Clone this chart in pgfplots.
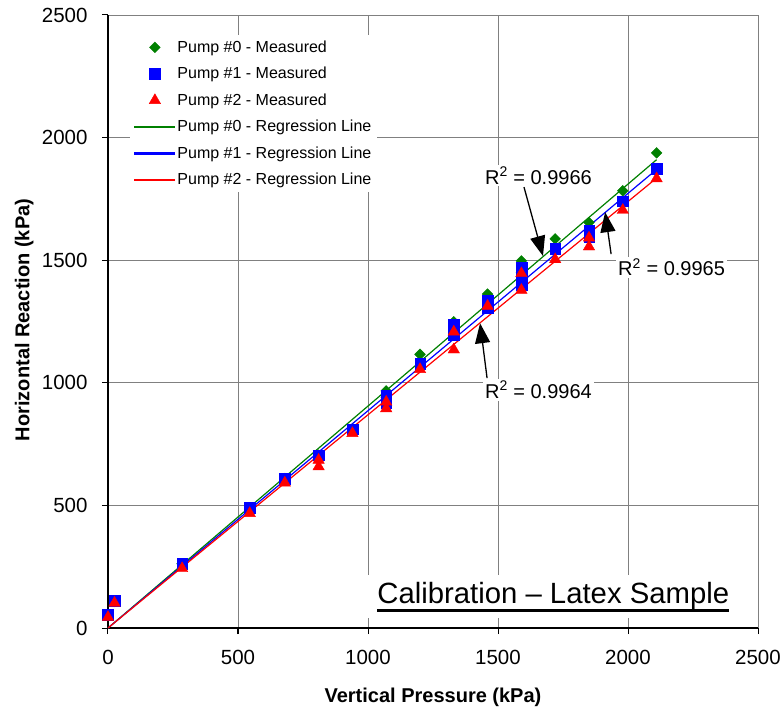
\documentclass[border=0pt]{standalone}
\usepackage{pgfplots}
\pgfplotsset{compat=1.18}
\usepackage{fontspec}
\setmainfont{Liberation Sans}
\usetikzlibrary{arrows.meta}
\definecolor{pumpgreen}{RGB}{0,128,0}
\definecolor{pumpblue}{RGB}{0,0,255}
\definecolor{pumpred}{RGB}{255,0,0}
\definecolor{gridgray}{RGB}{128,128,128}
\begin{document}
\begin{tikzpicture}
\useasboundingbox (-108pt,-85pt) rectangle (676pt,628pt);
\begin{axis}[
  at={(0,0)}, anchor=south west,
  scale only axis, width=650pt, height=613pt,
  xmin=0, xmax=2500, ymin=0, ymax=2500,
  xtick={0,500,...,2500}, ytick={0,500,...,2500},
  axis x line*=bottom, axis y line*=left,
  axis line style={line width=1.6pt, black},
  tick align=outside, major tick length=6pt,
  tick style={line width=1pt, black},
  grid=major, major grid style={line width=0.8pt, gridgray},
  /pgf/number format/assume math mode=true,
  /pgf/number format/set thousands separator={},
  ticklabel style={font=\fontsize{20.5}{24}\selectfont},
  yticklabel style={xshift=-11pt},
  xticklabel style={yshift=-13pt},
  xlabel={\textbf{Vertical Pressure (kPa)}},
  ylabel={\textbf{Horizontal Reaction (kPa)}},
  label style={font=\fontsize{20}{24}\selectfont},
  xlabel style={at={(axis description cs:0.5,-0.1126)}, anchor=center},
  ylabel style={at={(axis description cs:-0.129,0.5025)}, anchor=center, rotate=0},
  legend image code/.code={\draw[mark repeat=2,mark phase=2] plot coordinates {(0pt,0pt) (20pt,0pt) (40pt,0pt)};},
  legend style={at={(0.034,0.968)}, anchor=north west, draw=none, fill=white,
    font=\fontsize{16}{19}\selectfont, row sep=9.4pt, inner sep=4pt},
  legend cell align=left,
  clip=false,
]
\addplot[only marks, mark=square*, mark size=3.8pt, color=pumpgreen, mark options={rotate=45, fill=pumpgreen, draw=pumpgreen}] coordinates {
(0,50) (25,108) (285,262) (545,488) (680,610) (810,705) (940,810) (1070,967) (1070,940) (1200,1116) (1330,1249) (1330,1210) (1460,1362) (1590,1497) (1590,1450) (1720,1587) (1850,1654) (1980,1783) (2110,1938)
};
\addlegendentry{Pump \#0 - Measured}
\addplot[only marks, mark=square*, mark size=5.3pt, color=pumpblue, mark options={fill=pumpblue, draw=pumpblue}] coordinates {
(0,55) (25,112) (285,263) (545,490) (680,610) (810,705) (940,810) (1070,950) (1070,920) (1200,1079) (1330,1238) (1330,1196) (1460,1335) (1460,1305) (1590,1470) (1590,1440) (1590,1400) (1720,1548) (1850,1623) (1850,1597) (1980,1741) (2110,1874)
};
\addlegendentry{Pump \#1 - Measured}
\addplot[only marks, mark=triangle*, mark size=6.6pt, color=pumpred, mark options={fill=pumpred, draw=pumpred}] coordinates {
(0,44) (25,102) (285,243) (545,468) (680,592) (810,685) (810,658) (940,794) (1070,922) (1070,895) (1200,1055) (1330,1208) (1330,1135) (1460,1313) (1590,1446) (1590,1378) (1720,1503) (1850,1591) (1850,1555) (1980,1704) (2110,1833)
};
\addlegendentry{Pump \#2 - Measured}
\addplot[color=pumpgreen, line width=1.2pt, no marks,
  legend image code/.code={\fill[pumpgreen] (0pt,-0.7pt) rectangle (40pt,0.7pt);}] coordinates {(0,0) (2110,1910)};
\addlegendentry{Pump \#0 - Regression Line}
\addplot[color=pumpblue, line width=1.2pt, no marks,
  legend image code/.code={\fill[pumpblue] (0pt,-0.7pt) rectangle (40pt,0.7pt);}] coordinates {(0,0) (2110,1870)};
\addlegendentry{Pump \#1 - Regression Line}
\addplot[color=pumpred, line width=1.2pt, no marks,
  legend image code/.code={\fill[pumpred] (0pt,-0.7pt) rectangle (40pt,0.7pt);}] coordinates {(0,0) (2110,1835)};
\addlegendentry{Pump \#2 - Regression Line}

\node[anchor=base west, fill=white, inner sep=2pt, font=\fontsize{20}{24}\selectfont] at (axis cs:1442,1810) {R\textsuperscript{2} = 0.9966};
\node[anchor=base west, fill=white, inner sep=2pt, font=\fontsize{20}{24}\selectfont] at (axis cs:1954,1436) {R\textsuperscript{2} = 0.9965};
\node[anchor=base west, fill=white, inner sep=2pt, font=\fontsize{20}{24}\selectfont] at (axis cs:1442,936) {R\textsuperscript{2} = 0.9964};
\draw[line width=1.3pt, -{Triangle[length=20pt,width=15pt]}] (axis cs:1600,1798) -- (axis cs:1673,1517);
\draw[line width=1.3pt, -{Triangle[length=20pt,width=15pt]}] (axis cs:1935,1525) -- (axis cs:1912,1696);
\draw[line width=1.3pt, -{Triangle[length=20pt,width=15pt]}] (axis cs:1458,1019) -- (axis cs:1431,1243);

\node[anchor=base west, fill=white, inner xsep=10pt, inner ysep=8pt, font=\fontsize{29.3}{32}\selectfont] (cal) at (axis cs:997,98) {Calibration – Latex Sample};
\draw[line width=2.2pt] ([xshift=10pt,yshift=-6.5pt]cal.base west) -- ([xshift=-10pt,yshift=-6.5pt]cal.base east);
\end{axis}
\end{tikzpicture}
\end{document}
